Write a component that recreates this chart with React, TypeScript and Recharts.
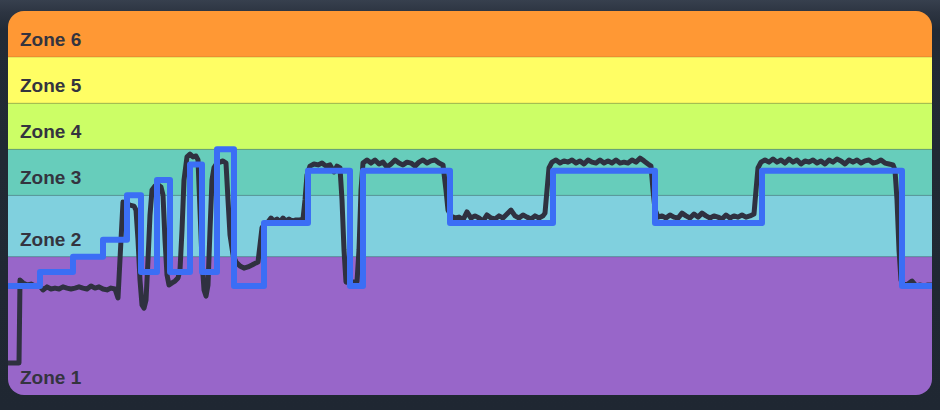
import React from 'react';
import { LineChart, Line, XAxis, YAxis, ReferenceArea, ReferenceLine } from 'recharts';

// Zone definitions (% of FTP)
const zoneNames = ['Zone 1', 'Zone 2', 'Zone 3', 'Zone 4', 'Zone 5', 'Zone 6'];
const zoneLower = [10, 55, 75, 90, 105, 120];
const zoneUpper = [55, 75, 90, 105, 120, 135];
const zoneColors = ['#9866c9', '#80d0de', '#67cdbb', '#ccfe66', '#fffe64', '#ff9834'];

// Target (step) series: time of each step start and its level
const targetTime = [0, 32, 65, 95, 119, 133, 149, 162, 182, 194, 209, 226, 256, 300, 342, 355, 442, 545, 647, 754, 894, 924];
const targetLevel = [45.5, 50, 55, 60.5, 75, 50, 80, 50, 85, 50, 90, 45.5, 66, 83, 45.5, 83, 66, 83, 66, 83, 45.5, 45.5];

// Measured power series
const powerTime = [
  0, 11, 12, 15, 19, 23, 27, 31, 35, 39, 43, 47, 51, 55, 59, 63, 67, 71, 75, 79, 83, 87, 91, 95, 99, 103, 107, 108, 110,
  113, 115, 118, 122, 126, 128, 130, 132, 134, 136, 138, 140, 142, 144, 147, 150, 153, 155, 157, 159, 161, 164, 167, 170,
  172, 174, 176, 179, 182, 185, 188, 190, 192, 194, 196, 198, 200, 202, 204, 206, 209, 212, 215, 218, 220, 222, 225, 228,
  232, 236, 240, 244, 248, 250, 252, 254, 257, 260, 263, 266, 269, 272, 275, 278, 281, 284, 288, 292, 295, 297, 299, 302,
  306, 310, 314, 318, 322, 326, 329, 332, 334, 336, 338, 342, 346, 349, 351, 353, 355, 359, 363, 367, 371, 375, 379, 383,
  387, 391, 395, 399, 403, 407, 411, 415, 419, 423, 427, 431, 435, 438, 440, 443, 447, 451, 455, 459, 463, 467, 471, 475,
  479, 483, 487, 491, 495, 499, 503, 507, 511, 515, 519, 523, 527, 531, 535, 537, 539, 541, 544, 548, 552, 556, 560, 564,
  568, 572, 576, 580, 584, 588, 592, 596, 600, 604, 608, 612, 616, 620, 624, 628, 632, 636, 640, 643, 645, 647, 650, 654,
  658, 662, 666, 670, 674, 678, 682, 686, 690, 694, 698, 702, 706, 710, 714, 718, 722, 726, 730, 734, 738, 742, 746, 748,
  750, 753, 757, 761, 765, 769, 773, 777, 781, 785, 789, 793, 797, 801, 805, 809, 813, 817, 821, 825, 829, 833, 837, 841,
  845, 849, 853, 857, 861, 865, 869, 873, 877, 881, 885, 887, 889, 891, 893, 896, 900, 904, 908, 912, 916, 920, 924,
];
const powerValue = [
  20.4, 20.4, 47.4, 46.5, 45.8, 46.1, 45.5, 45.8, 44.2, 45.2, 44.5, 44.8, 44.5, 45.2, 44.8, 44.5, 44.8, 45.2, 44.8, 44.5,
  45.5, 44.8, 45.2, 44.5, 44.2, 44.8, 44.5, 43.5, 41.6,
  60.5, 72.8, 72.5, 71.8, 71.5, 70.2, 60.5, 47.4, 39.3, 38.3, 40.9, 53.9, 68.6, 76.7, 78.0, 78.4, 77.7, 75.1, 60.5, 49.1,
  45.8, 46.5, 47.1, 48.1,
  50.7, 63.7, 80.0, 87.5, 88.4, 87.5, 87.8, 86.5, 70.2, 53.9, 44.2, 42.2, 45.8, 63.7, 80.0, 84.0, 85.5, 85.8, 86.2, 85.5,
  73.5, 62.1, 55.6, 53.3,
  52.0, 51.3, 51.7, 52.3, 53.0, 53.3, 58.8, 64.4, 66.0, 66.3, 67.6, 66.6, 67.3, 66.3, 67.6, 66.6, 67.3, 66.6, 67.0, 67.0,
  67.3, 73.5, 81.6, 84.5,
  85.2, 84.9, 85.5, 84.5, 84.9, 82.6, 84.5, 83.9, 73.5, 57.2, 46.8, 46.5, 46.8, 46.8, 57.2, 76.7, 85.5, 86.5, 85.5, 86.5,
  85.2, 85.8, 84.2, 85.2,
  86.5, 85.5, 84.9, 85.8, 85.5, 84.5, 85.8, 86.5, 85.5, 86.2, 86.5, 85.5, 84.9, 76.7, 70.2, 68.3, 67.6, 67.9, 67.0, 69.6,
  67.6, 68.3, 67.6, 66.6,
  68.6, 67.6, 67.3, 68.3, 67.6, 68.9, 70.2, 68.3, 67.6, 68.6, 67.9, 67.3, 68.3, 67.6, 68.3, 69.2, 76.7, 83.9, 85.8, 86.5,
  85.5, 86.2, 85.8, 86.5,
  85.5, 86.2, 85.2, 86.5, 85.8, 85.5, 86.5, 85.5, 86.2, 85.5, 86.5, 85.5, 85.8, 85.5, 86.5, 85.8, 87.1, 86.2, 85.2, 84.5,
  76.7, 70.4, 67.9, 68.3,
  67.6, 68.6, 67.9, 67.6, 69.2, 68.3, 67.6, 68.9, 67.9, 69.2, 68.3, 67.6, 68.3, 67.9, 67.3, 68.6, 67.6, 68.3, 67.9, 68.6,
  67.9, 68.3, 68.9, 76.7,
  83.9, 85.8, 86.5, 85.8, 86.8, 85.8, 86.5, 85.5, 86.8, 85.8, 86.5, 85.2, 86.2, 85.8, 86.5, 85.5, 86.2, 85.2, 86.5, 85.8,
  86.8, 86.2, 85.2, 86.5,
  85.8, 86.5, 85.5, 86.2, 86.5, 85.5, 85.8, 86.5, 85.5, 85.2, 84.9, 83.2, 73.5, 57.2, 47.4, 45.8, 46.1, 47.1, 45.5, 45.8,
  45.5, 45.8, 45.8,
];

const targetData = targetTime.map((t, i) => ({ t, target: targetLevel[i] }));
const powerData = powerTime.map((t, i) => ({ t, power: powerValue[i] }));

const makeZoneLabel = (name: string) => (props: any) => {
  const vb = props.viewBox || {};
  return (
    <text
      x={(vb.x ?? 0) + 12}
      y={(vb.y ?? 0) + (vb.height ?? 0) - 11}
      fill="#34343f"
      fontSize={19}
      fontWeight={700}
      fontFamily="'Liberation Sans', Arial, Helvetica, sans-serif"
      textAnchor="start"
    >
      {name}
    </text>
  );
};

export default function App() {
  return (
    <div
      style={{
        position: 'absolute',
        left: 0,
        top: 0,
        width: 940,
        height: 410,
        background: 'linear-gradient(to bottom, #37404e 0px, #2d3542 12px, #222a35 30px, #1f2732 100%)',
      }}
    >
      <div
        style={{
          position: 'absolute',
          left: 8,
          top: 11,
          width: 924,
          height: 384,
          borderRadius: 16,
          overflow: 'hidden',
        }}
      >
        <LineChart width={924} height={384} margin={{ top: 0, right: 0, bottom: 0, left: 0 }}>
          <XAxis type="number" dataKey="t" domain={[0, 924]} hide allowDataOverflow />
          <YAxis type="number" domain={[10, 135]} hide allowDataOverflow />
          {zoneNames.map((name, i) => (
            <ReferenceArea
              key={name}
              y1={zoneLower[i]}
              y2={zoneUpper[i]}
              fill={zoneColors[i]}
              fillOpacity={1}
              stroke="none"
              ifOverflow="hidden"
              label={makeZoneLabel(name)}
            />
          ))}
          {zoneLower.slice(1).map((v) => (
            <ReferenceLine key={v} y={v} stroke="rgba(0,0,0,0.16)" strokeWidth={1} />
          ))}
          <Line
            data={powerData}
            dataKey="power"
            type="linear"
            stroke="#2f3140"
            strokeWidth={5}
            dot={false}
            strokeLinejoin="round"
            strokeLinecap="round"
            isAnimationActive={false}
          />
          <Line
            data={targetData}
            dataKey="target"
            type="stepAfter"
            stroke="#3b6ef5"
            strokeWidth={6}
            dot={false}
            strokeLinejoin="round"
            isAnimationActive={false}
          />
        </LineChart>
      </div>
    </div>
  );
}
